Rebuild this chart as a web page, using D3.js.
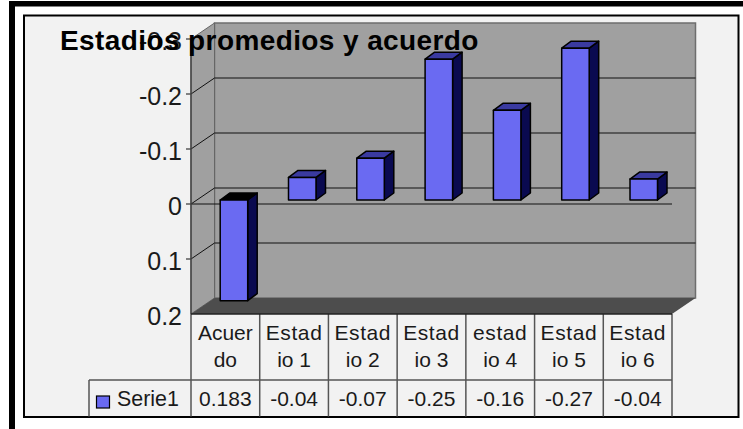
<!DOCTYPE html>
<html>
<head>
<meta charset="utf-8">
<script src="https://cdn.jsdelivr.net/npm/d3@7"></script>
<style>
  html, body { margin: 0; padding: 0; background: #fff; overflow: hidden; }
  text { font-family: "Liberation Sans", Arial, sans-serif; fill: #1a1a1a; }
</style>
</head>
<body>
<script>
const categories = ["Acuerdo", "Estadio 1", "Estadio 2", "Estadio 3", "estadio 4", "Estadio 5", "Estadio 6"];
const categoryLines = [["Acuer", "do"], ["Estad", "io 1"], ["Estad", "io 2"], ["Estad", "io 3"], ["estad", "io 4"], ["Estad", "io 5"], ["Estad", "io 6"]];
const tableLabels = ["0.183", "-0.04", "-0.07", "-0.25", "-0.16", "-0.27", "-0.04"];
const barValues = [0.183, -0.041, -0.076, -0.256, -0.163, -0.276, -0.038];
const yTicks = [-0.3, -0.2, -0.1, 0, 0.1, 0.2];
const seriesName = "Serie1";
const titleText = "Estadios promedios y acuerdo";

const width = 743, height = 429;

// 3d box of the plot
const plotLeft = 191, plotRight = 672, depthX = 23.5, depthY = 16;
const barDepthX = 9.5, barDepthY = 7;
const barShiftY = 4;

const x = d3.scaleBand().domain(categories).range([plotLeft, plotRight]);
// bars sit half way into the depth, so they get their own band scale
const xBars = d3.scaleBand().domain(categories).range([199.8, 677.9]);
const y = d3.scaleLinear().domain([-0.3, 0.2]).range([39, 314]);

const svg = d3.select("body").append("svg")
  .attr("width", width)
  .attr("height", height)
  .style("display", "block");

// outer black border and the chart panel
svg.append("rect").attr("x", 9).attr("y", 1).attr("width", 734).attr("height", 5.5).attr("fill", "#000");
svg.append("rect").attr("x", 9).attr("y", 1).attr("width", 6).attr("height", 428).attr("fill", "#000");
svg.append("rect").attr("x", 24).attr("y", 15.5).attr("width", 714.5).attr("height", 401.5)
  .attr("fill", "#f2f2f2").attr("stroke", "#000").attr("stroke-width", 2);

const poly = pts => pts.map(p => p.join(",")).join(" ");

// walls
svg.append("polygon")
  .attr("points", poly([[plotLeft + depthX, y(-0.3) - depthY], [plotRight + depthX, y(-0.3) - depthY], [plotRight + depthX, y(0.2) - depthY], [plotLeft + depthX, y(0.2) - depthY]]))
  .attr("fill", "#a0a0a0").attr("stroke", "#6e6e6e").attr("stroke-width", 1.5);
svg.append("polygon")
  .attr("points", poly([[plotLeft, y(-0.3)], [plotLeft + depthX, y(-0.3) - depthY], [plotLeft + depthX, y(0.2) - depthY], [plotLeft, y(0.2)]]))
  .attr("fill", "#a0a0a0").attr("stroke", "#666").attr("stroke-width", 1);
svg.append("polygon")
  .attr("points", poly([[plotLeft, y(0.2)], [plotLeft + depthX, y(0.2) - depthY], [plotRight + depthX, y(0.2) - depthY], [plotRight, y(0.2)]]))
  .attr("fill", "#4d4d4d");

// gridlines on the walls
const grid = svg.append("g").attr("stroke", "#111").attr("stroke-width", 1).attr("fill", "none");
yTicks.slice(1, 5).forEach(t => {
  grid.append("polyline")
    .attr("points", poly([[plotLeft - 5, y(t)], [plotLeft, y(t)], [plotLeft + depthX, y(t) - depthY], [plotRight + depthX, y(t) - depthY]]));
});
grid.append("polyline").attr("points", poly([[plotLeft - 5, y(-0.3)], [plotLeft, y(-0.3)]]));
grid.append("line").attr("x1", plotLeft).attr("x2", plotRight).attr("y1", y(0)).attr("y2", y(0));
grid.append("line").attr("x1", plotLeft).attr("x2", plotLeft).attr("y1", y(-0.3)).attr("y2", y(0.2)).attr("stroke", "#444").attr("stroke-width", 1.5);

// bars
const barScale = v => y(v) - barShiftY;
const barW = 27.5;
const bars = svg.append("g").selectAll("g")
  .data(barValues)
  .join("g")
  .attr("stroke", "#000")
  .attr("stroke-width", 1.5)
  .attr("stroke-linejoin", "round");

const bx = (d, i) => xBars(categories[i]) + (xBars.bandwidth() - barW) / 2;
const barTop = d => Math.min(barScale(d), barScale(0));
const barBottom = d => Math.max(barScale(d), barScale(0));

bars.append("polygon")
  .attr("fill", "#0a0a50")
  .attr("points", (d, i) => poly([
    [bx(d, i) + barW, barTop(d)], [bx(d, i) + barW + barDepthX, barTop(d) - barDepthY],
    [bx(d, i) + barW + barDepthX, barBottom(d) - barDepthY], [bx(d, i) + barW, barBottom(d)]
  ]));
bars.append("polygon")
  .attr("fill", d => d > 0 ? "#000" : "#3a3aa0")
  .attr("points", (d, i) => poly([
    [bx(d, i), barTop(d)], [bx(d, i) + barDepthX, barTop(d) - barDepthY],
    [bx(d, i) + barW + barDepthX, barTop(d) - barDepthY], [bx(d, i) + barW, barTop(d)]
  ]));
bars.append("rect")
  .attr("fill", "#6a6af2")
  .attr("x", bx)
  .attr("y", d => barTop(d))
  .attr("width", barW)
  .attr("height", d => barBottom(d) - barTop(d));

// value axis labels
svg.append("g").selectAll("text")
  .data(yTicks)
  .join("text")
  .attr("x", 182)
  .attr("y", d => y(d) + 1.5)
  .attr("dy", "0.36em")
  .attr("text-anchor", "end")
  .attr("font-size", 25)
  .text(d => d === 0 ? "0" : d3.format(".1f")(d).replace("−", "-"));

// data table
const rowTop = y(0.2), rowMid = 380, rowBottom = 416.5, tableLeft = 89;
const table = svg.append("g").attr("stroke", "#555").attr("stroke-width", 1.5);
[...categories.map(c => x(c)), plotRight].forEach(px => {
  table.append("line").attr("x1", px).attr("x2", px).attr("y1", rowTop).attr("y2", rowBottom);
});
table.append("line").attr("x1", plotLeft).attr("x2", plotRight).attr("y1", rowTop).attr("y2", rowTop).attr("stroke", "#222");
table.append("line").attr("x1", tableLeft).attr("x2", plotRight).attr("y1", rowMid).attr("y2", rowMid);
table.append("line").attr("x1", tableLeft).attr("x2", tableLeft).attr("y1", rowMid).attr("y2", rowBottom);

const catGroup = svg.append("g").selectAll("g")
  .data(categories)
  .join("g")
  .attr("transform", d => `translate(${x(d) + x.bandwidth() / 2},0)`);
catGroup.append("text").attr("text-anchor", "middle").attr("font-size", 21).attr("y", 339.5)
  .attr("letter-spacing", (d, i) => i === 0 ? 0 : 0.6)
  .text((d, i) => categoryLines[i][0]);
catGroup.append("text").attr("text-anchor", "middle").attr("font-size", 21).attr("y", 366.5)
  .text((d, i) => categoryLines[i][1]);
catGroup.append("text").attr("text-anchor", "middle").attr("font-size", 21).attr("y", 406)
  .text((d, i) => tableLabels[i]);

// legend key in the table
svg.append("rect").attr("x", 96.5).attr("y", 396).attr("width", 13).attr("height", 12)
  .attr("fill", "#6a6af2").attr("stroke", "#000").attr("stroke-width", 1.2);
svg.append("text").attr("x", 117).attr("y", 406).attr("font-size", 21.4).text(seriesName);

// title is drawn last, it overlaps the -0.3 label
svg.append("text")
  .attr("x", 60).attr("y", 50)
  .attr("font-size", 28)
  .attr("letter-spacing", 0.4)
  .attr("font-weight", "bold")
  .style("fill", "#000")
  .text(titleText);
</script>
</body>
</html>
